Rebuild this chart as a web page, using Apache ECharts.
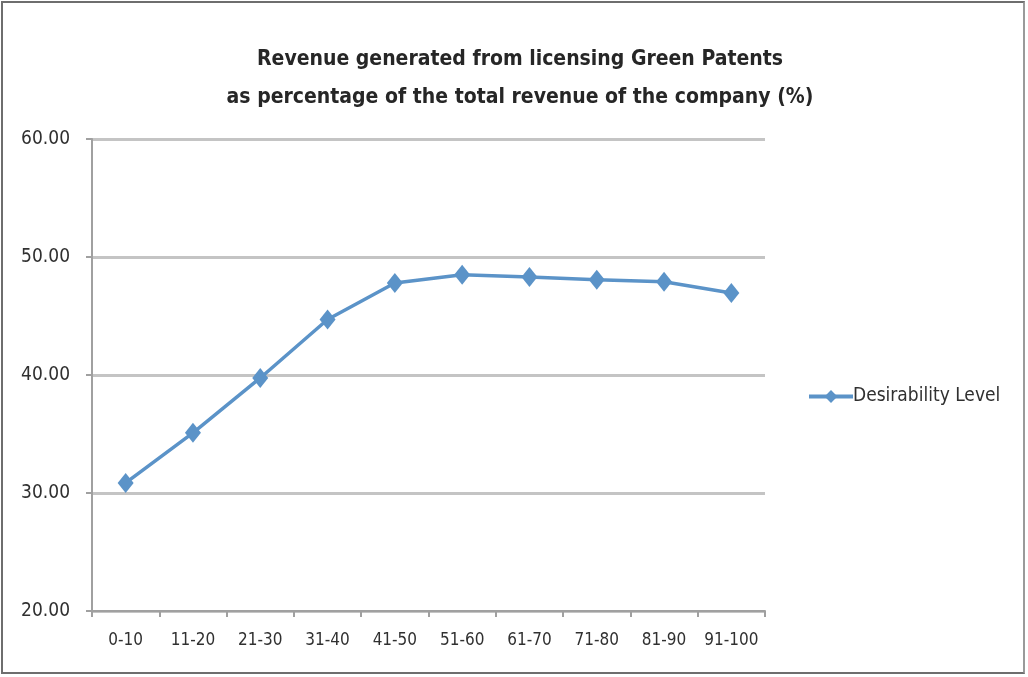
<!DOCTYPE html>
<html><head><meta charset="utf-8">
<script src="https://cdn.jsdelivr.net/npm/echarts@6/dist/echarts.min.js"></script>
<style>
html,body{margin:0;padding:0;background:#fff;}
#wrap{position:absolute;left:1px;top:1px;width:1024px;height:673px;border:2px solid #6e6e6e;border-right:2px solid #9a9a9a;box-sizing:border-box;}
#c{position:absolute;left:0;top:0;width:1028px;height:677px;}
</style></head>
<body>
<div id="wrap"></div>
<div id="c"></div>
<script>
const categories = ['0-10','11-20','21-30','31-40','41-50','51-60','61-70','71-80','81-90','91-100'];
const desirability = [30.85, 35.1, 39.75, 44.7, 47.8, 48.5, 48.3, 48.08, 47.9, 46.95];
const seriesName = 'Desirability Level';
const titleLines = ['Revenue generated from licensing Green Patents','as percentage of the total revenue of the company (%)'];

const font = '"Liberation Sans Narrow", "DejaVu Sans Condensed", sans-serif';
const chart = echarts.init(document.getElementById('c'), null, {renderer:'canvas'});
chart.setOption({
  animation:false,
  title:{
    text: titleLines.join('\n'),
    left: 515, top: 36, textAlign:'center',
    textStyle:{fontFamily:font, fontSize:21, fontWeight:'bold', color:'#262626', lineHeight:38}
  },
  legend:{
    data:[seriesName], left:802, top:382, orient:'vertical',
    itemWidth:44, itemHeight:16, itemGap:0,
    lineStyle:{width:4},
    textStyle:{fontFamily:font, fontSize:19, color:'#303030', padding:[0,0,0,-5]}
  },
  grid:{left:92, right:263, top:139, bottom:66, containLabel:false},
  xAxis:{
    type:'category', data:categories, boundaryGap:true,
    axisLine:{lineStyle:{color:'#a0a0a0', width:2}},
    axisTick:{show:true, interval:0, length:6, lineStyle:{color:'#a0a0a0', width:2}},
    axisLabel:{interval:0, fontFamily:font, fontSize:17, color:'#303030', margin:21}
  },
  yAxis:{
    type:'value', min:20, max:60, interval:10,
    axisLine:{show:true, lineStyle:{color:'#a0a0a0', width:2}},
    axisTick:{show:true, length:6, lineStyle:{color:'#a0a0a0', width:2}},
    axisLabel:{fontFamily:font, fontSize:19, color:'#303030', margin:22, formatter:v=>v.toFixed(2)},
    splitLine:{lineStyle:{color:'#c4c4c4', width:3}}
  },
  series:[{
    name:seriesName, type:'line', data:desirability,
    symbol:'diamond', symbolSize:[16,20],
    lineStyle:{color:'#5b93c8', width:3.5},
    itemStyle:{color:'#5b93c8'}
  }]
});
</script>
</body></html>
